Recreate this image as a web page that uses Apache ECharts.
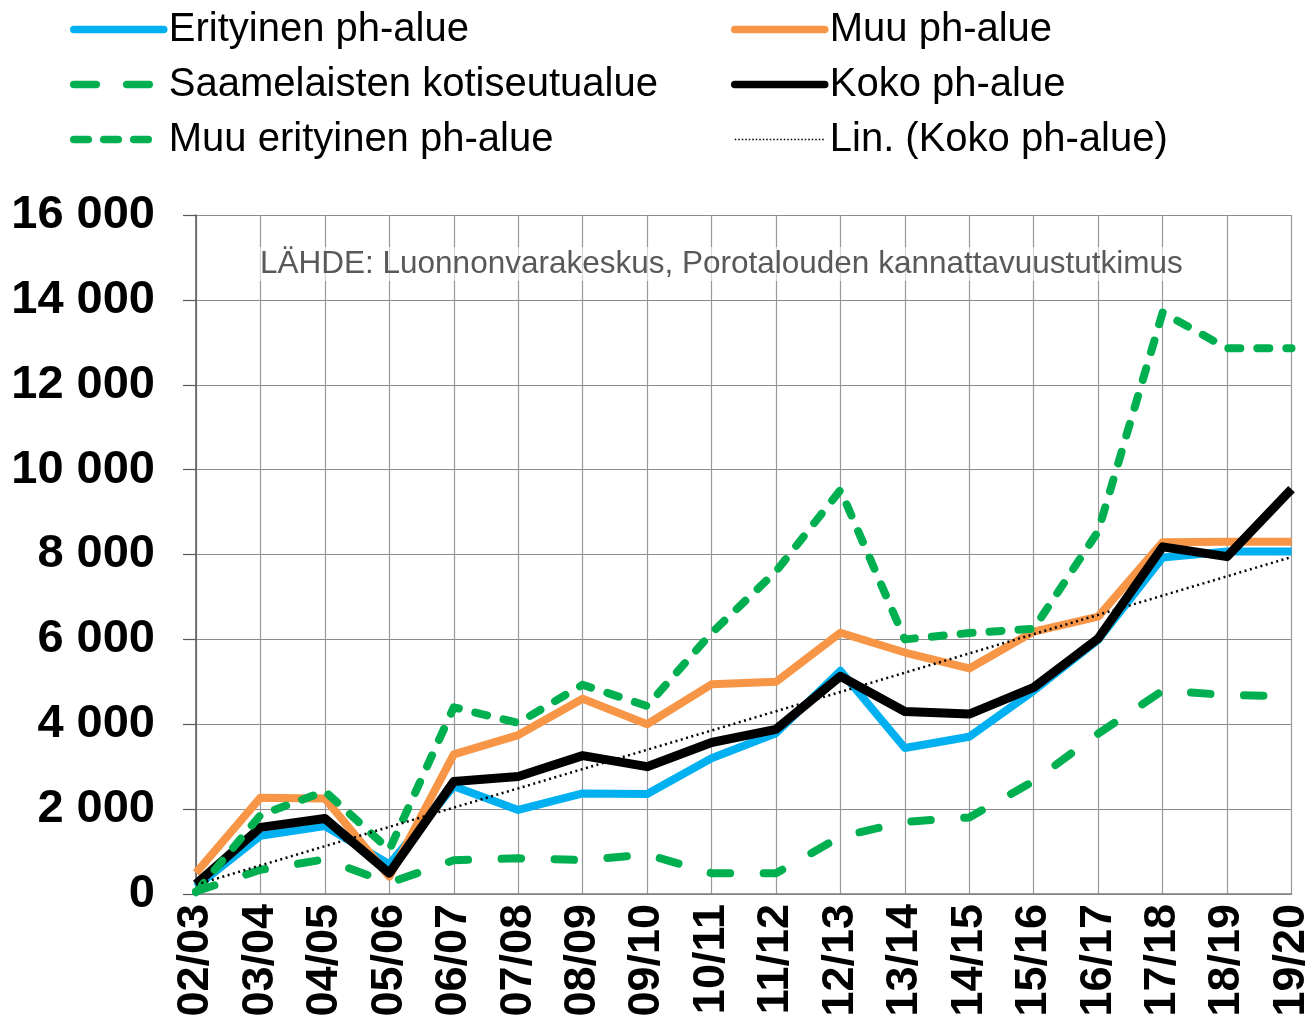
<!DOCTYPE html>
<html>
<head>
<meta charset="utf-8">
<script src="https://cdn.jsdelivr.net/npm/echarts@6/dist/echarts.min.js"></script>
<style>
html,body{margin:0;padding:0;background:#fff;}
#chart{width:1314px;height:1021px;}
</style>
</head>
<body>
<div id="chart"></div>
<script>
var categories = ['02/03','03/04','04/05','05/06','06/07','07/08','08/09','09/10','10/11','11/12','12/13','13/14','14/15','15/16','16/17','17/18','18/19','19/20'];
var erityinen = [170, 1370, 1600, 700, 2540, 1980, 2370, 2355, 3200, 3790, 5260, 3440, 3705, 4790, 5990, 7930, 8070, 8070];
var muuPh = [500, 2270, 2250, 410, 3290, 3745, 4600, 4000, 4940, 5000, 6155, 5690, 5315, 6185, 6535, 8290, 8300, 8300];
var saamelaiset = [60, 570, 815, 260, 795, 840, 800, 930, 490, 490, 1350, 1700, 1805, 2660, 3780, 4790, 4690, 4660];
var koko = [230, 1570, 1780, 490, 2650, 2770, 3260, 3000, 3570, 3880, 5130, 4300, 4240, 4870, 6020, 8180, 7950, 9540];
var muuErityinen = [40, 1860, 2420, 1040, 4400, 4030, 4930, 4430, 6150, 7600, 9520, 6000, 6150, 6250, 8550, 13700, 12860, 12860];
var yTicks = [0, 2000, 4000, 6000, 8000, 10000, 12000, 14000, 16000];
var sourceText = 'LÄHDE: Luonnonvarakeskus, Porotalouden kannattavuustutkimus';

// Linear trendline (least squares) of "Koko ph-alue", as Excel's Lin. trendline
function linTrend(arr){
  var n = arr.length, sx=0, sy=0, sxx=0, sxy=0;
  for (var i=0;i<n;i++){ sx+=i; sy+=arr[i]; sxx+=i*i; sxy+=i*arr[i]; }
  var b = (n*sxy - sx*sy)/(n*sxx - sx*sx);
  var a = (sy - b*sx)/n;
  return arr.map(function(_,i){ return +(a + b*i).toFixed(1); });
}
var trend = linTrend(koko);

var FONT = '"Liberation Sans", Arial, sans-serif';
var chart = echarts.init(document.getElementById('chart'), null, {renderer:'canvas'});

function fmt(v){ return String(v).replace(/\B(?=(\d{3})+(?!\d))/g, ' '); }

var COL = {
  blue: '#00B0F0', orange: '#F79646', green: '#00B050', black: '#000000'
};
var DASH_SAAME = [19.5, 33.5];
var DASH_MUUERIT = [12, 17];

function legendItem(name, color, width, type, cap){
  return { name: name, lineStyle: { color: color, width: width, type: type || 'solid', cap: cap || 'butt' } };
}
var legendText = { fontSize: 40, fontFamily: FONT, color: '#000', lineHeight: 41 };

var option = {
  backgroundColor: '#fff',
  animation: false,
  grid: { left: 196, right: 18, top: 215, bottom: 127, containLabel: false },
  legend: [
    {
      data: [
        legendItem('Erityinen ph-alue', COL.blue, 7.5, 'solid', 'round'),
        legendItem('Saamelaisten kotiseutualue', COL.green, 7.5, [22.5, 30.5], 'round'),
        legendItem('Muu erityinen ph-alue', COL.green, 7.5, [14.5, 15.5], 'round')
      ],
      orient: 'vertical', left: 70, top: 9, padding: 0,
      itemWidth: 90, itemHeight: 14, itemGap: 14,
      itemStyle: { opacity: 0 },
      textStyle: legendText
    },
    {
      data: [
        legendItem('Muu ph-alue', COL.orange, 7.5, 'solid', 'round'),
        legendItem('Koko ph-alue', COL.black, 7.5, 'solid', 'round'),
        legendItem('Lin. (Koko ph-alue)', COL.black, 1.5, [1.5, 2])
      ],
      orient: 'vertical', left: 731, top: 9, padding: 0,
      itemWidth: 90, itemHeight: 14, itemGap: 14,
      itemStyle: { opacity: 0 },
      textStyle: legendText
    }
  ],
  xAxis: {
    type: 'category',
    data: categories,
    boundaryGap: false,
    axisLine: { show: true, lineStyle: { color: '#7f7f7f', width: 1.5 } },
    axisTick: { show: false },
    splitLine: { show: true, lineStyle: { color: '#999', width: 1.2 } },
    axisLabel: {
      rotate: 90, margin: 10, interval: 0,
      fontSize: 45, fontWeight: 'bold', fontFamily: FONT, color: '#000'
    }
  },
  yAxis: {
    type: 'value',
    min: yTicks[0], max: yTicks[yTicks.length-1], interval: 2000,
    axisLine: { show: true, lineStyle: { color: '#595959', width: 1.5 } },
    axisTick: { show: true, inside: false, length: 13, lineStyle: { color: '#595959', width: 1.2 } },
    splitLine: { show: true, lineStyle: { color: '#8c8c8c', width: 1.2 } },
    axisLabel: {
      margin: 41, fontSize: 47, fontWeight: 'bold', fontFamily: FONT, color: '#000',
      formatter: fmt
    }
  },
  graphic: [{
    type: 'text', left: 258, top: 247, z: 10,
    style: {
      text: sourceText, fontSize: 31.5, fontFamily: FONT, fill: '#595959',
      backgroundColor: 'rgba(255,255,255,0.6)', padding: [1, 2]
    }
  }],
  series: [
    {
      name: 'Erityinen ph-alue', type: 'line', data: erityinen, symbol: 'none',
      lineStyle: { color: COL.blue, width: 8, join: 'round' },
      itemStyle: { color: COL.blue }
    },
    {
      name: 'Muu ph-alue', type: 'line', data: muuPh, symbol: 'none',
      lineStyle: { color: COL.orange, width: 8, join: 'round' },
      itemStyle: { color: COL.orange }
    },
    {
      name: 'Saamelaisten kotiseutualue', type: 'line', data: saamelaiset, symbol: 'none',
      lineStyle: { color: COL.green, width: 8, type: DASH_SAAME, cap: 'round', join: 'round' },
      itemStyle: { color: COL.green }
    },
    {
      name: 'Koko ph-alue', type: 'line', data: koko, symbol: 'none',
      lineStyle: { color: COL.black, width: 9, join: 'round' },
      itemStyle: { color: COL.black }
    },
    {
      name: 'Muu erityinen ph-alue', type: 'line', data: muuErityinen, symbol: 'none',
      lineStyle: { color: COL.green, width: 8, type: DASH_MUUERIT, cap: 'round', join: 'round' },
      itemStyle: { color: COL.green }
    },
    {
      name: 'Lin. (Koko ph-alue)', type: 'line', data: trend, symbol: 'none',
      lineStyle: { color: COL.black, width: 2.5, type: [2, 3.5] },
      itemStyle: { color: COL.black }
    }
  ]
};
chart.setOption(option);
</script>
</body>
</html>
